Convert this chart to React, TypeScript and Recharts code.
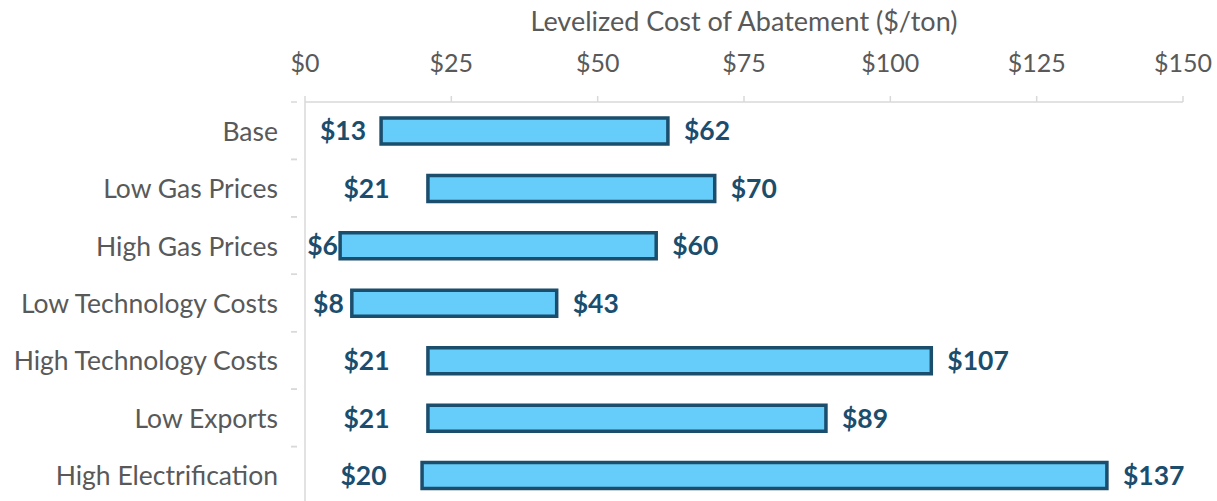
import React from "react";
import { BarChart, Bar, XAxis, YAxis, LabelList, Label } from "recharts";

const categories = [
  "Base",
  "Low Gas Prices",
  "High Gas Prices",
  "Low Technology Costs",
  "High Technology Costs",
  "Low Exports",
  "High Electrification",
];
const lowValues = [13, 21, 6, 8, 21, 21, 20];
const highValues = [62, 70, 60, 43, 107, 89, 137];
const xTicks = [0, 25, 50, 75, 100, 125, 150];
const axisTitle = "Levelized Cost of Abatement ($/ton)";

const data = categories.map((name, i) => ({
  name,
  low: lowValues[i],
  high: highValues[i],
  range: highValues[i] - lowValues[i],
}));

const FONT = "Lato, 'Open Sans', sans-serif";
const LABEL_COLOR = "#1B4D6D";
const HALF_STEP = 28.7;

const CatTick = (props: any) => {
  const { x, y, payload } = props;
  return (
    <g>
      <text
        x={x - 19}
        y={y}
        textAnchor="end"
        dominantBaseline="central"
        fontFamily={FONT}
        fontSize={26.5}
        fill="#595959"
      >
        {payload.value}
      </text>
      <line x1={x - 6} x2={x} y1={y - HALF_STEP} y2={y - HALF_STEP} stroke="#D9D9D9" strokeWidth={1.5} />
      <line x1={x - 6} x2={x} y1={y + HALF_STEP} y2={y + HALF_STEP} stroke="#D9D9D9" strokeWidth={1.5} />
    </g>
  );
};

export default function App() {
  return (
    <div style={{ position: "absolute", left: 0, top: 0, width: 1217, height: 501, overflow: "hidden", background: "#fff" }}>
      <BarChart
        width={1217}
        height={505}
        data={data}
        layout="vertical"
        margin={{ top: 0, right: 34, bottom: 1, left: 0 }}
        barSize={26}
      >
        <XAxis
          type="number"
          orientation="top"
          domain={[0, 150]}
          ticks={xTicks}
          height={102}
          tickFormatter={(v: number) => `$${v}`}
          axisLine={{ stroke: "#D9D9D9", strokeWidth: 1.5 }}
          tickLine={{ stroke: "#D9D9D9", strokeWidth: 1.5 }}
          tickSize={6}
          tickMargin={24}
          tick={{ fontFamily: FONT, fontSize: 25, fill: "#595959" }}
        >
          <Label
            value={axisTitle}
            position="insideTop"
            offset={12}
            style={{ fontFamily: FONT, fontSize: 27, fill: "#595959" }}
          />
        </XAxis>
        <YAxis
          type="category"
          dataKey="name"
          width={305}
          axisLine={{ stroke: "#D9D9D9", strokeWidth: 1.5 }}
          tickLine={false}
          tick={<CatTick />}
        />
        <Bar dataKey="low" stackId="a" fill="transparent" isAnimationActive={false}>
          <LabelList
            dataKey="low"
            position="center"
            formatter={(v: number) => `$${v}`}
            style={{ fontFamily: FONT, fontSize: 26.5, fontWeight: 700, fill: LABEL_COLOR }}
          />
        </Bar>
        <Bar
          dataKey="range"
          stackId="a"
          fill="#66CCFA"
          stroke="#1B4D6D"
          strokeWidth={3.5}
          isAnimationActive={false}
        >
          <LabelList
            dataKey="high"
            position="right"
            offset={16}
            formatter={(v: number) => `$${v}`}
            style={{ fontFamily: FONT, fontSize: 26.5, fontWeight: 700, fill: LABEL_COLOR }}
          />
        </Bar>
      </BarChart>
    </div>
  );
}
